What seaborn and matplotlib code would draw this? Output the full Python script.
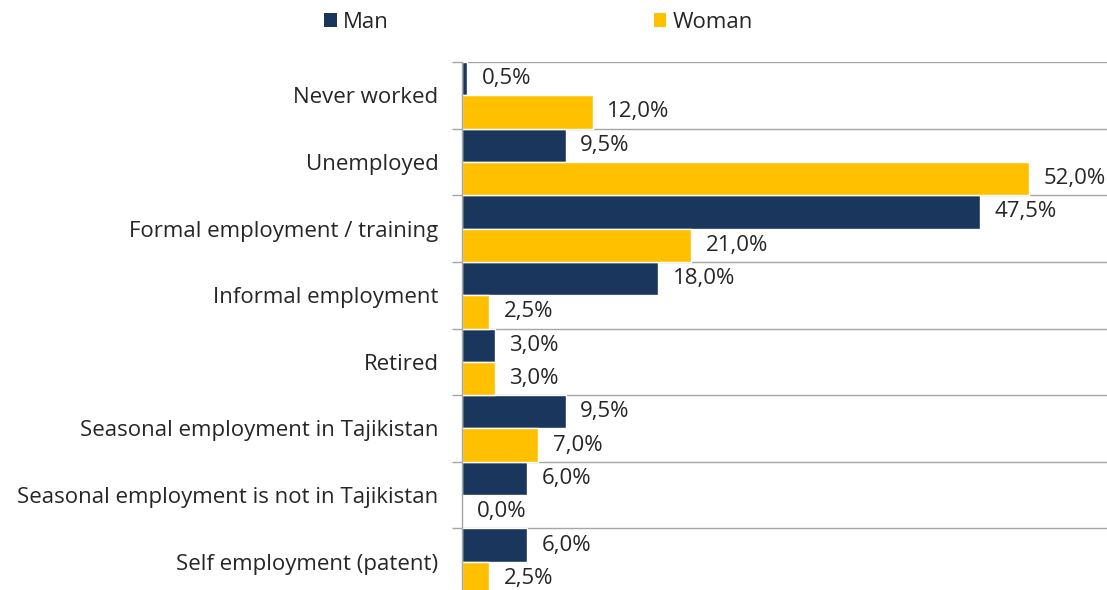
import matplotlib
matplotlib.use("Agg")
import matplotlib.pyplot as plt
import seaborn as sns
import pandas as pd
import numpy as np
from matplotlib.patches import Patch

categories = ["Never worked", "Unemployed", "Formal employment / training",
              "Informal employment", "Retired", "Seasonal employment in Tajikistan",
              "Seasonal employment is not in Tajikistan", "Self employment (patent)"]
man = [0.5, 9.5, 47.5, 18.0, 3.0, 9.5, 6.0, 6.0]
woman = [12.0, 52.0, 21.0, 2.5, 3.0, 7.0, 0.0, 2.5]
series = ["Man", "Woman"]
colors = ["#1B365D", "#FFC000"]

df = pd.DataFrame({
    "category": categories * 2,
    "value": man + woman,
    "gender": [series[0]] * len(categories) + [series[1]] * len(categories),
})

sns.set_theme(style="white")
plt.rcParams["font.family"] = ["Open Sans", "DejaVu Sans"]

FS = 16
fig = plt.figure(figsize=(11.07, 5.90), dpi=100)
ax = fig.add_axes([462 / 1107, -5 / 590, 1 - 462 / 1107, (590 - 62 + 5) / 590])

sns.barplot(data=df, y="category", x="value", hue="gender", order=categories,
            hue_order=series, palette=colors, orient="h", width=1.0, gap=0,
            ax=ax, legend=False, saturation=1)

for cont in ax.containers:
    vals = cont.datavalues
    ax.bar_label(cont, labels=[f"{v:.1f}%".replace(".", ",") for v in vals],
                 padding=10.5, fontsize=FS, color="#262626")

ax.set_xlim(0, 59.2)
ax.set_ylim(len(categories) - 0.5, -0.5)
ax.set_xlabel("")
ax.set_ylabel("")
ax.set_xticks([])
ax.set_yticks(range(len(categories)))
ax.set_yticklabels(categories, fontsize=FS, color="#262626")
ax.tick_params(axis="y", which="major", length=0, pad=17)
ax.set_yticks(np.arange(-0.5, len(categories), 1.0), minor=True)
ax.tick_params(axis="y", which="minor", length=7, color="#A6A6A6", width=1, left=True)
ax.grid(False)
for y in np.arange(-0.5, len(categories), 1.0):
    ax.axhline(y, color="#A6A6A6", lw=1, zorder=0)

for s in ["top", "right", "bottom"]:
    ax.spines[s].set_visible(False)
ax.spines["left"].set_color("#A6A6A6")
ax.spines["left"].set_linewidth(1)

handles = [Patch(facecolor=c, edgecolor="none") for c in colors]
fig.legend(handles, series, loc="center", bbox_to_anchor=(0.4865, 0.962), ncol=2,
           frameon=False, fontsize=FS, handlelength=0.55, handleheight=0.55,
           handletextpad=0.3, columnspacing=11.9, labelcolor="#262626")

fig.savefig("out.png", dpi=100)
